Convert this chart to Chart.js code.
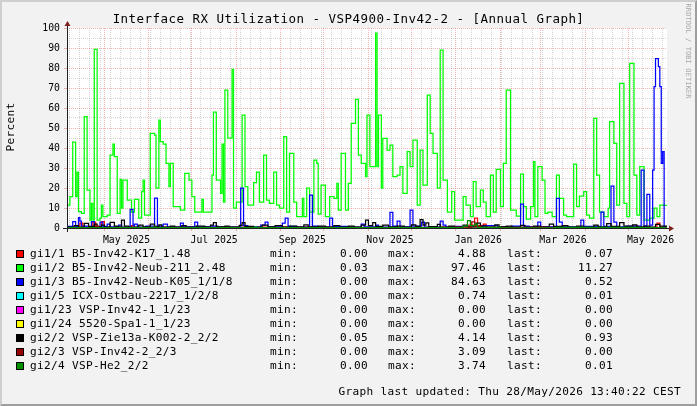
<!DOCTYPE html>
<html>
<head>
<meta charset="utf-8">
<title>Interface RX Utilization - VSP4900-Inv42-2 - [Annual Graph]</title>
<script src="https://cdn.jsdelivr.net/npm/chart.js@4/dist/chart.umd.min.js"></script>
<style>
  html, body { margin: 0; padding: 0; background: #F2F2F2; }
  #wrap { position: relative; width: 697px; height: 406px; background: #F2F2F2; overflow: hidden; }
  #frame { position: absolute; left: 0; top: 0; width: 697px; height: 406px; box-sizing: border-box;
           border-style: solid; border-width: 2px; border-color: #CFCFCF #9E9E9E #9E9E9E #CFCFCF; pointer-events: none; }
  #chart { position: absolute; left: 0; top: 0; }
  .txt { position: absolute; font-family: 'DejaVu Sans Mono', monospace; color: #000; white-space: pre; }
  #title { left: 0; top: 12px; width: 697px; text-align: center; font-size: 12.5px; letter-spacing: 0.47px; line-height: 14px; }
  #unit { left: -19px; top: 120px; width: 60px; height: 14px; line-height: 14px; text-align: center;
          font-size: 11.1px; letter-spacing: 0.31px; transform: rotate(-90deg); }
  #footer { right: 16px; top: 385px; font-size: 11.1px; letter-spacing: 0.31px; line-height: 14px; }
  #wm { left: 628px; top: 46px; width: 120px; height: 10px; line-height: 10px; text-align: center;
        font-size: 7px; letter-spacing: 0.1px; color: #A8A8A8; transform: rotate(90deg); }
  .row { position: absolute; left: 0; width: 697px; height: 14px; }
  .row span { position: absolute; top: 0; line-height: 14px; font-family: 'DejaVu Sans Mono', monospace;
              font-size: 11.1px; letter-spacing: 0.31px; white-space: pre; color: #000; }
  .row .sw { top: 3px; left: 16px; width: 6px; height: 6px; border: 1px solid #000; }
  .row .num { text-align: right; }
</style>
</head>
<body>
<div id="wrap">
  <canvas id="chart" width="697" height="406"></canvas>
  <div id="title" class="txt">Interface RX Utilization - VSP4900-Inv42-2 - [Annual Graph]</div>
  <div id="unit" class="txt">Percent</div>
  <div id="legend"></div>
  <div id="footer" class="txt">Graph last updated: Thu 28/May/2026 13:40:22 CEST</div>
  <div id="wm" class="txt">RRDTOOL / TOBI OETIKER</div>
  <div id="frame"></div>
</div>
<script>
// ---- x axis: days since 5 Apr 2025 (day 418 = 28 May 2026) ----
const xMin = 0;
const xMax = 418;
const monthStarts = [26, 57, 87, 118, 149, 179, 210, 240, 271, 302, 330, 361, 391];
const labelDays = [41.5, 102.5, 164, 225, 286.5, 345.5, 406.5];
const labelTexts = ['May 2025', 'Jul 2025', 'Sep 2025', 'Nov 2025', 'Jan 2026', 'Mar 2026', 'May 2026'];
const weekLines = [2, 9, 16, 23, 30, 37, 44, 51, 58, 65, 72, 79, 86, 93, 100, 107, 114, 121, 128, 135, 142, 149,
  156, 163, 170, 177, 184, 191, 198, 205, 212, 219, 226, 233, 240, 247, 254, 261, 268, 275, 282, 289, 296, 303,
  310, 317, 324, 331, 338, 345, 352, 359, 366, 373, 380, 387, 394, 401, 408, 415];
const yTicks = [0, 5, 10, 15, 20, 25, 30, 35, 40, 45, 50, 55, 60, 65, 70, 75, 80, 85, 90, 95, 100];

// ---- series (step starts in days, values in percent) ----
const redDays = [0,6,9,11,18,20,24,26,30,45,47,60,100,150,200,250,280,284,286,290,292,320,350,395,398,411,413,416,418];
const redVals = [0.3,1.0,2.5,0.5,3.0,0.4,3.2,0.6,0.3,1.2,0.3,0.5,0.4,0.6,0.3,0.4,1.5,4.88,1.2,2.0,0.4,0.6,0.3,1.0,0.3,2.5,0.5,0.07,0.07];

const greenDays = [0,2,4,6,7,8,10,12,14,16,17,18,19,21,23,24,25,28,30,32,33,35,37,38,39,42,45,47,50,52,53,54,58,61,62,64,65,67,69,71,72,74,79,82,85,87,89,94,95,101,102,104,107,108,109,110,112,115,116,118,122,124,126,130,132,134,137,139,141,144,146,148,151,153,155,158,160,164,165,167,169,172,174,175,177,180,183,186,188,189,191,194,196,198,201,203,205,208,209,211,213,215,216,217,219,220,223,225,227,230,232,234,237,239,241,244,246,248,251,253,255,258,260,262,265,268,270,276,278,281,283,285,288,290,292,295,297,299,302,304,306,309,313,316,318,320,323,325,326,328,331,333,335,338,341,343,346,348,353,355,357,360,362,364,367,369,371,374,377,378,381,383,385,388,390,392,395,397,399,402,406,409,411,413,416,418];
const greenVals = [11.5,15.7,43,15.7,28,8.2,7.3,55.7,19,4,12.3,4,89.3,4,5,11.5,5.7,6.5,36.5,42,35.7,7.3,24.3,10,24,14,8,14.3,5,18.2,24,6.5,47.3,46.5,20,54,43.2,42,32.3,20.7,32.3,10.7,9,27.3,24,15.7,8,14.3,8,26.5,58,24,17.3,42,13,69,45,79.3,10,13,56.5,20.7,11.5,22.7,28,13,36.5,14,12.3,28,11.5,10,45.7,8,37.3,13,5.7,14.8,5.7,20,8,34,32.3,7,21.5,5.7,15.7,14.8,22.3,9,37.3,9,22.3,52.3,64.3,36.5,32.3,25.7,56.5,30.7,30.7,97.46,30.7,56.5,20,44.8,39,41.5,25.7,26.5,30.7,17.3,38.2,30.7,44,11.5,39,21.5,66.5,47.3,37.3,20,89,24,8,18.2,4,15.7,11.5,5.7,23.2,10.7,19,13,5.7,26.5,8,29.3,10.7,32.3,69,9,6,27,10.7,4.5,10.7,33.2,5.7,30.7,24,7.3,8,5.7,26.5,14.8,6.5,5.7,32,10.7,16,18.2,6.5,5,54.8,26.5,8,5.7,10,53.2,42.3,11.5,72.3,12.3,5.7,82.3,26.5,6.5,30.7,4,5,10,5.7,11.5,11.27,11.27];

const blueDays = [0,4,6,8,9,10,14,17,19,23,25,28,30,36,38,44,46,47,49,55,61,63,67,70,79,81,89,91,100,105,121,123,126,135,138,140,150,152,154,160,169,171,175,183,185,195,205,207,215,217,225,227,230,232,239,241,247,249,260,262,264,270,280,290,300,310,316,318,322,328,330,341,343,345,358,360,372,374,379,381,383,390,400,402,404,406,408,409,410,412,413,414,415,416,418];
const blueVals = [0.8,3.2,0.8,5.2,3.5,1.0,0.5,3.2,0.6,3.0,0.8,2.0,0.6,1.5,0.5,9.3,1.2,2.0,0.5,1.0,15,1.0,2.0,0.5,2.5,0.6,3.0,0.6,1.0,0.4,20,1.2,0.5,1.5,3.0,0.6,2.5,5.0,0.8,0.5,16.5,1.0,0.5,5.0,0.8,0.5,2.0,0.6,1.5,0.5,7.8,1.0,3.5,0.6,9.0,1.0,3.0,0.5,3.5,1.5,0.5,0.8,0.4,1.2,0.5,1.0,12,1.0,0.5,3.0,0.6,14.8,3.0,0.6,4.0,0.8,8.0,0.8,21,3.0,0.6,1.0,29,1.0,16.8,1.5,29,70.7,84.63,80.7,70.7,32.3,38.2,0.52,0.52];

const cyanDays = [0,130,132,280,282,416,418];
const cyanVals = [0.1,0.74,0.1,0.5,0.1,0.01,0.01];

const magentaDays = [0,418];
const magentaVals = [0,0];

const yellowDays = [0,418];
const yellowVals = [0,0];

const blackDays = [0,5,8,12,15,19,21,24,26,30,33,36,38,40,43,50,53,58,61,64,66,72,75,80,83,90,96,100,102,104,110,113,120,122,124,130,136,140,145,150,155,160,165,168,175,180,186,190,196,200,205,208,210,213,215,220,224,230,235,240,243,246,248,250,252,258,260,266,270,276,279,285,288,292,298,301,306,310,316,319,325,330,336,339,345,349,355,360,367,370,376,379,385,388,394,397,402,406,410,413,416,418];
const blackVals = [0.4,1.2,0.5,2.3,0.8,2.0,0.6,1.5,0.4,2.8,1.0,0.5,4.0,1.0,0.5,1.5,0.6,2.0,0.8,1.6,0.5,1.0,0.4,1.2,0.5,0.9,0.4,1.4,2.7,0.6,1.0,0.5,1.3,2.7,0.8,0.5,1.5,0.6,1.2,0.5,0.9,0.4,1.6,0.6,1.0,0.5,1.2,0.4,0.9,0.4,1.5,4.0,1.2,2.7,0.8,1.5,0.6,1.0,0.5,1.6,0.8,4.14,1.5,2.6,0.7,1.8,0.5,1.0,0.4,1.5,0.6,2.5,1.0,0.5,1.6,0.6,0.9,0.4,1.3,0.5,1.0,0.4,2.0,0.8,1.2,0.5,0.9,0.4,1.4,0.6,2.2,0.8,2.7,1.0,1.6,0.6,1.0,0.5,1.8,0.9,0.93,0.93];

const darkRedDays = [0,20,22,270,282,284,288,330,333,416,418];
const darkRedVals = [0.1,1.0,0.1,0.5,3.09,0.8,0.2,0.4,0.1,0,0];

const darkGreenDays = [0,60,62,276,279,281,284,286,300,302,340,400,416,418];
const darkGreenVals = [0.2,0.5,0.2,1.0,3.74,1.2,2.0,0.3,0.5,0.1,0.3,0.2,0.01,0.01];

// ---- legend ----
const seriesNames = ['gi1/1 B5-Inv42-K17_1.48', 'gi1/2 B5-Inv42-Neub-211_2.48', 'gi1/3 B5-Inv42-Neub-K05_1/1/8',
  'gi1/5 ICX-Ostbau-2217_1/2/8', 'gi1/23 VSP-Inv42-1_1/23', 'gi1/24 5520-Spa1-1_1/23',
  'gi2/2 VSP-Zie13a-K002-2_2/2', 'gi2/3 VSP-Inv42-2_2/3', 'gi2/4 VSP-He2_2/2'];
const seriesColors = ['#FF0000', '#00FF00', '#0000FF', '#00FFFF', '#FF00FF', '#FFFF00', '#000000', '#990000', '#009000'];
const legendMin = ['0.00', '0.03', '0.00', '0.00', '0.00', '0.00', '0.05', '0.00', '0.00'];
const legendMax = ['4.88', '97.46', '84.63', '0.74', '0.00', '0.00', '4.14', '3.09', '3.74'];
const legendLast = ['0.07', '11.27', '0.52', '0.01', '0.00', '0.00', '0.93', '0.00', '0.01'];

const seriesDays = [redDays, greenDays, blueDays, cyanDays, magentaDays, yellowDays, blackDays, darkRedDays, darkGreenDays];
const seriesVals = [redVals, greenVals, blueVals, cyanVals, magentaVals, yellowVals, blackVals, darkRedVals, darkGreenVals];

// ---- build HTML legend ----
const legendEl = document.getElementById('legend');
seriesNames.forEach((name, i) => {
  const row = document.createElement('div');
  row.className = 'row';
  row.style.top = (247 + 14 * i) + 'px';
  const parts = [
    ['sw', '', null],
    ['', name, 'left:30px'],
    ['', 'min:', 'left:270px'],
    ['num', legendMin[i], 'left:300px;width:68px'],
    ['', 'max:', 'left:388px'],
    ['num', legendMax[i], 'left:418px;width:68px'],
    ['', 'last:', 'left:507px'],
    ['num', legendLast[i], 'left:545px;width:68px']
  ];
  parts.forEach(([cls, txt, st]) => {
    const s = document.createElement('span');
    if (cls) s.className = cls;
    s.textContent = txt;
    if (st) s.setAttribute('style', st);
    if (cls === 'sw') s.style.background = seriesColors[i];
    row.appendChild(s);
  });
  legendEl.appendChild(row);
});

// ---- chart ----
const GRID = 'rgba(143,143,143,0.38)';
const MGRID = 'rgba(222,79,79,0.42)';
const NONE = 'rgba(0,0,0,0)';
const isIn = (arr, v) => arr.some(a => Math.abs(a - v) < 1e-6);
const xTickValues = Array.from(new Set([].concat(weekLines, monthStarts, labelDays))).sort((a, b) => a - b);

const rrdPlugin = {
  id: 'rrdFrame',
  beforeDraw(chart) {
    const {ctx, chartArea: a} = chart;
    ctx.save();
    ctx.fillStyle = '#FFFFFF';
    ctx.fillRect(a.left, a.top, a.right - a.left, a.bottom - a.top);
    ctx.restore();
  },
  afterDatasetsDraw(chart) {
    const {ctx, chartArea: a} = chart;
    const l = Math.round(a.left), b = Math.round(a.bottom), r = Math.round(a.right), t = Math.round(a.top);
    ctx.save();
    ctx.strokeStyle = '#1F1F1F';
    ctx.lineWidth = 1;
    ctx.beginPath();
    ctx.moveTo(l - 4, b + 0.5); ctx.lineTo(r + 4, b + 0.5);
    ctx.moveTo(l + 0.5, b + 4); ctx.lineTo(l + 0.5, t - 4);
    ctx.stroke();
    ctx.fillStyle = '#7F1F1F';
    ctx.beginPath();
    ctx.moveTo(r + 2, b - 2.5); ctx.lineTo(r + 2, b + 3.5); ctx.lineTo(r + 7, b + 0.5); ctx.closePath();
    ctx.fill();
    ctx.beginPath();
    ctx.moveTo(l - 2.5, t - 2); ctx.lineTo(l + 3.5, t - 2); ctx.lineTo(l + 0.5, t - 7); ctx.closePath();
    ctx.fill();
    ctx.restore();
  }
};

const datasets = seriesNames.map((name, i) => {
  const days = seriesDays[i], vals = seriesVals[i];
  const n = Math.min(days.length, vals.length);
  const data = [];
  for (let k = 0; k < n; k++) data.push({x: days[k], y: vals[k]});
  return {
    label: name,
    data: data,
    borderColor: seriesColors[i],
    backgroundColor: seriesColors[i],
    borderWidth: 1.25,
    pointRadius: 0,
    fill: false,
    stepped: 'before',
    tension: 0,
    borderJoinStyle: 'miter',
    borderCapStyle: 'butt',
    order: 20 - i
  };
});

new Chart(document.getElementById('chart'), {
  type: 'line',
  data: {datasets: datasets},
  options: {
    responsive: false,
    animation: false,
    devicePixelRatio: 1,
    parsing: false,
    normalized: true,
    layout: {padding: {left: 0, right: 30, top: 28, bottom: 158}},
    plugins: {legend: {display: false}, tooltip: {enabled: false}, title: {display: false}},
    scales: {
      x: {
        type: 'linear',
        min: xMin,
        max: xMax,
        afterBuildTicks: s => { s.ticks = xTickValues.map(v => ({value: v})); },
        afterFit: s => { s.height = 20; },
        ticks: {
          autoSkip: false, maxRotation: 0, minRotation: 0, padding: 4, color: '#000',
          font: {family: 'DejaVu Sans Mono', size: 9.8},
          callback: v => { const k = labelDays.findIndex(d => Math.abs(d - v) < 1e-6); return k >= 0 ? labelTexts[k] : ''; }
        },
        grid: {
          lineWidth: 1,
          drawTicks: true,
          tickLength: 3,
          color: c => isIn(monthStarts, c.tick.value) ? MGRID : (isIn(weekLines, c.tick.value) ? GRID : NONE),
          tickColor: c => isIn(monthStarts, c.tick.value) ? MGRID : NONE
        },
        border: {display: false, dash: [1, 1]}
      },
      y: {
        type: 'linear',
        min: 0,
        max: 100,
        afterBuildTicks: s => { s.ticks = yTicks.map(v => ({value: v})); },
        afterFit: s => { s.width = 67; },
        ticks: {
          autoSkip: false, padding: 4, color: '#000',
          font: {family: 'DejaVu Sans Mono', size: 9.8},
          callback: v => (v % 10 === 0 ? String(v) : '')
        },
        grid: {
          lineWidth: 1,
          drawTicks: true,
          tickLength: 3,
          color: c => c.tick.value === 0 ? NONE : (c.tick.value % 10 === 0 ? MGRID : GRID),
          tickColor: c => (c.tick.value % 10 === 0 ? MGRID : NONE)
        },
        border: {display: false, dash: [1, 1]}
      }
    }
  },
  plugins: [rrdPlugin]
});
</script>
</body>
</html>
